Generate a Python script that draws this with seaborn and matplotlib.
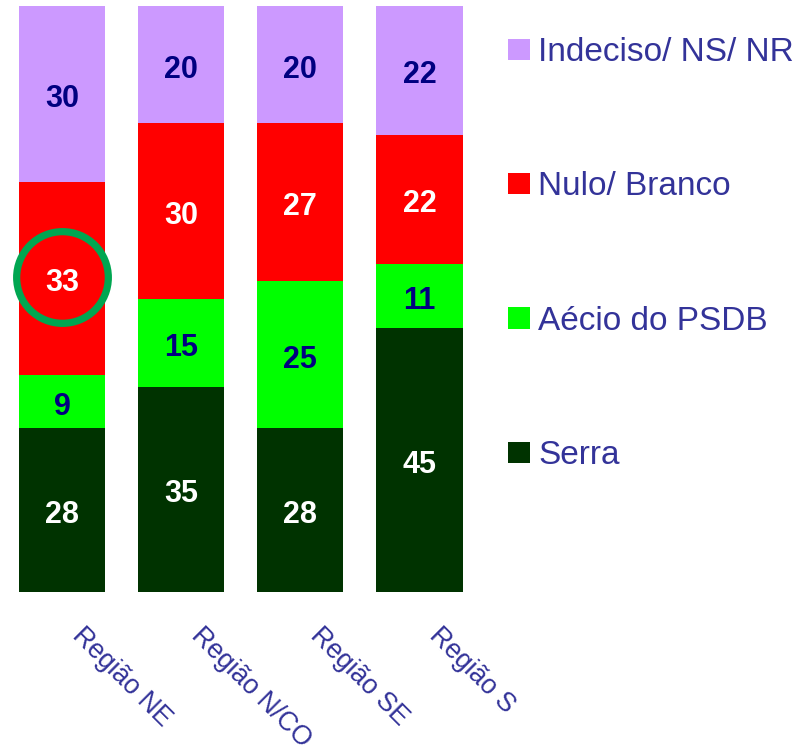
import matplotlib
matplotlib.use("Agg")
import matplotlib.pyplot as plt
import matplotlib.transforms as mtransforms
import seaborn as sns
import pandas as pd
import numpy as np
from matplotlib.patches import Patch

sns.set_theme(style="white")
plt.rcParams['font.family'] = ['Liberation Sans', 'DejaVu Sans']

regions = ["Região NE", "Região N/CO", "Região SE", "Região S"]
serra = [28, 35, 28, 45]
aecio = [9, 15, 25, 11]
nulo = [33, 30, 27, 22]
indeciso = [30, 20, 20, 22]

series_names = ["Serra", "Aécio do PSDB", "Nulo/ Branco", "Indeciso/ NS/ NR"]
series_vals = [serra, aecio, nulo, indeciso]
colors = ["#003300", "#00FF00", "#FF0000", "#CC99FF"]
label_colors = ["white", "#000080", "white", "#000080"]

fig = plt.figure(figsize=(8.02, 7.55), dpi=100)
ax = fig.add_axes([2.5/802, (755-592)/755, 476.5/802, 586/755])

vals = np.array(series_vals, dtype=float)
cum = np.cumsum(vals, axis=0)

# draw from the top series down so lower segments overlay
for i in range(len(series_names)-1, -1, -1):
    df = pd.DataFrame({"region": regions, "top": cum[i]})
    sns.barplot(data=df, x="region", y="top", color=colors[i], saturation=1,
                width=0.725, ax=ax, order=regions, errorbar=None,
                linewidth=0)

for i in range(len(series_names)):
    for j in range(len(regions)):
        mid = cum[i][j] - vals[i][j] / 2
        ax.text(j, mid - 0.85, f"{int(vals[i][j])}", ha="center", va="center",
                fontsize=22, fontweight="bold", color=label_colors[i])

# highlight circle around NE Nulo value
ax.plot(0, cum[2][0] - vals[2][0] / 2 + 0.3, marker="o", ms=66, mfc="none",
        mec="#00A651", mew=5.2)

ax.set_xlim(-0.5, 3.5)
ax.set_ylim(0, 100)
ax.set_xlabel("")
ax.set_ylabel("")
ax.set_yticks([])
for s in ax.spines.values():
    s.set_visible(False)
ax.tick_params(axis="x", length=0, pad=22)
ax.set_xticks(range(len(regions)))
ax.set_xticklabels(regions, rotation=-45, ha="left", va="top",
                   rotation_mode="anchor", fontsize=19.2, color="#333399")
offset = mtransforms.ScaledTranslation(23/100, 0/100, fig.dpi_scale_trans)
for lab in ax.get_xticklabels():
    lab.set_transform(lab.get_transform() + offset)

handles = [Patch(facecolor=colors[i], edgecolor="none") for i in range(3, -1, -1)]
labels = [series_names[i] for i in range(3, -1, -1)]
fig.legend(handles, labels, loc="upper left",
           bbox_to_anchor=(508/802, 1 - 37/755), frameon=False,
           fontsize=24, labelcolor="#333399", labelspacing=3.1,
           handlelength=0.66, handleheight=0.6, handletextpad=0.24,
           borderpad=0, borderaxespad=0)

fig.savefig("out.png", dpi=100)
